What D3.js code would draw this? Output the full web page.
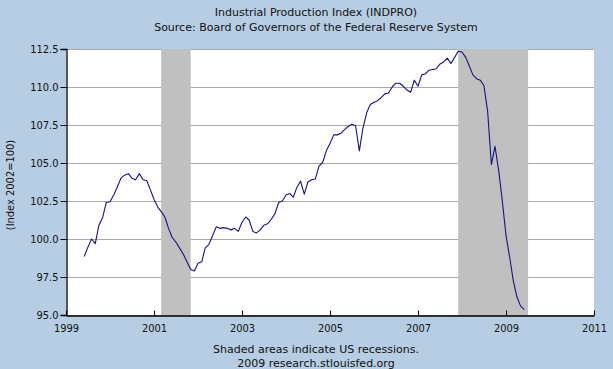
<!DOCTYPE html>
<html>
<head>
<meta charset="utf-8">
<script src="https://cdnjs.cloudflare.com/ajax/libs/d3/7.8.5/d3.min.js"></script>
<style>
  html, body { margin: 0; padding: 0; background: #b6cde4; }
  svg text { font-family: "DejaVu Sans", sans-serif; fill: #111; }
</style>
</head>
<body>
<div id="chart"></div>
<script>
// Chart data: monthly index values, June 1999 - June 2009
var startMonth = "1999-06-01";
var indproValues = [
  98.85, 99.45, 100.0, 99.7, 100.9, 101.4, 102.4,
  102.45, 102.9, 103.4, 104.0, 104.2, 104.3, 104.0, 103.9, 104.3, 103.9, 103.85, 103.25,
  102.6, 102.1, 101.8, 101.45, 100.7, 100.1, 99.8, 99.4, 99.0, 98.5, 98.0, 97.9,
  98.4, 98.5, 99.4, 99.65, 100.2, 100.8, 100.7, 100.75, 100.7, 100.6, 100.7, 100.5,
  101.1, 101.45, 101.25, 100.5, 100.4, 100.6, 100.9, 101.0, 101.3, 101.65, 102.4, 102.5,
  102.9, 103.0, 102.75, 103.4, 103.8, 102.95, 103.75, 103.9, 103.95, 104.8, 105.05, 105.8,
  106.3, 106.85, 106.85, 106.95, 107.2, 107.4, 107.55, 107.45, 105.8, 107.3, 108.3, 108.85,
  109.0, 109.1, 109.3, 109.55, 109.6, 110.0, 110.25, 110.25, 110.05, 109.8, 109.65, 110.45,
  110.05, 110.8, 110.85, 111.1, 111.15, 111.2, 111.5, 111.65, 111.9, 111.55, 111.95, 112.35,
  112.3, 111.95, 111.4, 110.8, 110.55, 110.45, 110.1, 108.4, 104.9, 106.1, 104.5, 102.5,
  100.2, 98.75, 97.3, 96.2, 95.6, 95.35
];
var recessions = [
  ["2001-03-01", "2001-11-01"],
  ["2007-12-01", "2009-07-03"]
];
var yTicks = [95.0, 97.5, 100.0, 102.5, 105.0, 107.5, 110.0, 112.5];
var xTickYears = [1999, 2001, 2003, 2005, 2007, 2009, 2011];

var titleText = "Industrial Production Index (INDPRO)";
var subtitleText = "Source: Board of Governors of the Federal Reserve System";
var yLabelText = "(Index 2002=100)";
var footerLines = ["Shaded areas indicate US recessions.", "2009 research.stlouisfed.org"];

// SVG size and plot box
var svgWidth = 613;
var svgHeight = 369;
var plot = { left: 66, right: 594, top: 49, bottom: 315 };

var parseDate = d3.timeParse("%Y-%m-%d");
var start = parseDate(startMonth);

var data = indproValues.map(function(v, i) {
  return { date: d3.timeMonth.offset(start, i), value: v };
});

var svg = d3.select("#chart")
  .append("svg")
  .attr("width", svgWidth)
  .attr("height", svgHeight);

svg.append("rect")
  .attr("width", svgWidth)
  .attr("height", svgHeight)
  .attr("fill", "#b6cde4");

var xScale = d3.scaleTime()
  .domain([new Date(1999, 0, 1), new Date(2011, 0, 1)])
  .range([plot.left, plot.right]);

var yScale = d3.scaleLinear()
  .domain([95, 112.5])
  .range([plot.bottom, plot.top]);

// plot background
svg.append("rect")
  .attr("x", plot.left)
  .attr("y", plot.top)
  .attr("width", plot.right - plot.left)
  .attr("height", plot.bottom - plot.top)
  .attr("fill", "#ffffff");

// horizontal grid lines
svg.append("g")
  .selectAll("line")
  .data(yTicks)
  .enter()
  .append("line")
  .attr("x1", plot.left)
  .attr("x2", plot.right)
  .attr("y1", d => Math.round(yScale(d)) + 0.5)
  .attr("y2", d => Math.round(yScale(d)) + 0.5)
  .attr("stroke", "#a9a9a9")
  .attr("stroke-width", 1);

// recession bands
svg.append("g")
  .selectAll("rect")
  .data(recessions)
  .enter()
  .append("rect")
  .attr("x", d => xScale(parseDate(d[0])))
  .attr("y", plot.top)
  .attr("width", d => xScale(parseDate(d[1])) - xScale(parseDate(d[0])))
  .attr("height", plot.bottom - plot.top)
  .attr("fill", "#c0c0c0");

// axes
var leftAxis = d3.axisLeft(yScale)
  .tickValues(yTicks)
  .tickFormat(d3.format(".1f"))
  .tickSize(6)
  .tickPadding(2);

var bottomAxis = d3.axisBottom(xScale)
  .tickValues(xTickYears.map(y => new Date(y, 0, 1)))
  .tickFormat(d3.timeFormat("%Y"))
  .tickSizeInner(-5)
  .tickSizeOuter(0)
  .tickPadding(9);

var yAxisG = svg.append("g")
  .attr("transform", `translate(${plot.left + 0.5}, 0)`)
  .call(leftAxis);

var xAxisG = svg.append("g")
  .attr("transform", `translate(0, ${plot.bottom + 0.5})`)
  .call(bottomAxis);

[yAxisG, xAxisG].forEach(function(g) {
  g.select(".domain").attr("stroke", "#000").attr("stroke-width", 1.3);
  g.selectAll(".tick line").attr("stroke", "#000");
  g.selectAll(".tick text")
    .style("font-family", "'DejaVu Sans Condensed', 'DejaVu Sans', sans-serif")
    .style("font-size", "11px")
    .attr("fill", "#111");
});

// the series line
var drawLine = d3.line()
  .x(d => xScale(d.date))
  .y(d => yScale(d.value));

svg.append("path")
  .attr("d", drawLine(data))
  .attr("fill", "none")
  .attr("stroke", "#15157a")
  .attr("stroke-width", 1.1)
  .attr("stroke-linejoin", "round");

// titles
svg.append("text")
  .attr("x", 316)
  .attr("y", 16)
  .attr("text-anchor", "middle")
  .style("font-size", "11px")
  .text(titleText);

svg.append("text")
  .attr("x", 316)
  .attr("y", 31)
  .attr("text-anchor", "middle")
  .style("font-size", "11px")
  .text(subtitleText);

// y axis label
svg.append("text")
  .attr("transform", `translate(14, 185) rotate(-90)`)
  .attr("text-anchor", "middle")
  .style("font-family", "'DejaVu Sans Condensed', 'DejaVu Sans', sans-serif")
  .style("font-size", "11px")
  .text(yLabelText);

// footer
svg.selectAll(".footer")
  .data(footerLines)
  .enter()
  .append("text")
  .attr("class", "footer")
  .attr("x", 316)
  .attr("y", (d, i) => 353 + i * 14)
  .attr("text-anchor", "middle")
  .style("font-size", "11px")
  .text(d => d);
</script>
</body>
</html>
